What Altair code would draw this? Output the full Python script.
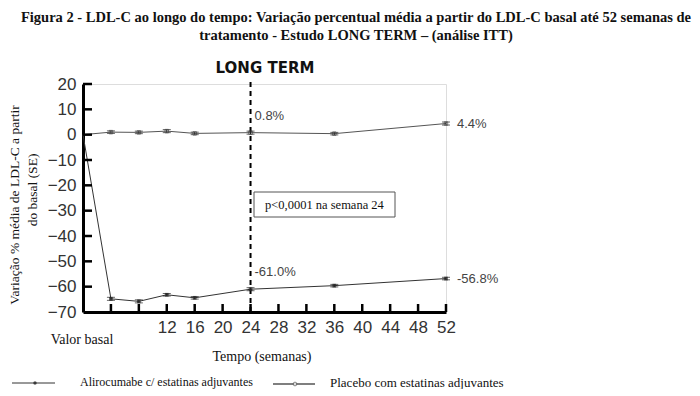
import altair as alt
import pandas as pd

# ---------------- data ----------------
weeks = [0, 4, 8, 12, 16, 24, 36, 52]
aliro = [0, -64.8, -65.8, -63.2, -64.4, -61.0, -59.6, -56.8]
aliro_se = [0, 0.6, 0.6, 0.5, 0.5, 0.6, 0.5, 0.5]
placebo = [0, 1.0, 0.9, 1.4, 0.5, 0.8, 0.4, 4.4]
placebo_se = [0, 0.5, 0.5, 0.6, 0.5, 0.6, 0.5, 0.6]
series_names = ["Alirocumabe c/ estatinas adjuvantes", "Placebo com estatinas adjuvantes"]

x_ticks = [0, 4, 8, 12, 16, 20, 24, 28, 32, 36, 40, 44, 48, 52]
y_ticks = [20, 10, 0, -10, -20, -30, -40, -50, -60, -70]

label_weeks = [24, 52, 24, 52]
label_values = [0.8, 4.4, -61.0, -56.8]
label_texts = ["0.8%", "4.4%", "-61.0%", "-56.8%"]

title_lines = [
    "Figura 2 - LDL-C ao longo do tempo: Variação percentual média a partir do LDL-C basal até 52 semanas de",
    "tratamento - Estudo LONG TERM – (análise ITT)",
]
y_title_lines = ["Variação % média de LDL-C a partir", "do basal (SE)"]

rows = []
for w, v, s in zip(weeks, aliro, aliro_se):
    rows.append({"week": w, "value": v, "lo": v - s, "hi": v + s, "series": series_names[0]})
for w, v, s in zip(weeks, placebo, placebo_se):
    rows.append({"week": w, "value": v, "lo": v - s, "hi": v + s, "series": series_names[1]})
df = pd.DataFrame(rows)
df_pts = df[df.week > 0]
df_a = df[df.series == series_names[0]]
df_p = df[df.series == series_names[1]]

df_lab = pd.DataFrame({"week": label_weeks, "value": label_values, "text": label_texts})
one = pd.DataFrame({"a": [0]})

W, H = 363, 228
xs = alt.Scale(domain=[0, 52], nice=False, zero=False)
ys = alt.Scale(domain=[-70, 20], nice=False, zero=False)

x_axis = alt.Axis(values=x_ticks, labelExpr="datum.value >= 12 ? datum.label : ''", title=None)
y_axis = alt.Axis(values=y_ticks, title=None)

def X(f):
    return alt.X(f, scale=xs, axis=x_axis)

def Y(f):
    return alt.Y(f, scale=ys, axis=y_axis)

# lines
line_a = alt.Chart(df_a).mark_line(color="#333", strokeWidth=1).encode(x=X("week:Q"), y=Y("value:Q"))
line_p = alt.Chart(df_p).mark_line(color="#555", strokeWidth=1).encode(x=X("week:Q"), y=Y("value:Q"))

# error bars
err = alt.Chart(df_pts).mark_rule(color="#222", strokeWidth=1).encode(
    x=X("week:Q"), y=Y("lo:Q"), y2="hi:Q")
cap_lo = alt.Chart(df_pts).mark_tick(color="#222", orient="horizontal", size=8, thickness=1).encode(
    x=X("week:Q"), y=Y("lo:Q"))
cap_hi = alt.Chart(df_pts).mark_tick(color="#222", orient="horizontal", size=8, thickness=1).encode(
    x=X("week:Q"), y=Y("hi:Q"))
pts_a = alt.Chart(df_a[df_a.week > 0]).mark_point(shape="square", filled=True, color="#222", size=14).encode(
    x=X("week:Q"), y=Y("value:Q"))
pts_p = alt.Chart(df_p[df_p.week > 0]).mark_point(shape="square", filled=False, color="#444", size=12, strokeWidth=1).encode(
    x=X("week:Q"), y=Y("value:Q"))

# inward ticks
xt = alt.Chart(pd.DataFrame({"t": x_ticks[1:]})).mark_rule(color="#000", strokeWidth=2.5).encode(
    x=X("t:Q"), y=alt.value(H), y2=alt.value(H - 8))
yt = alt.Chart(pd.DataFrame({"t": y_ticks[:-1]})).mark_rule(color="#000", strokeWidth=2.5).encode(
    y=Y("t:Q"), x=alt.value(0), x2=alt.value(9))

# dashed line at week 24
dash = alt.Chart(pd.DataFrame({"t": [24]})).mark_rule(color="#000", strokeWidth=2, strokeDash=[5, 4]).encode(
    x=X("t:Q"), y=alt.value(-2), y2=alt.value(H))

# value labels
lab_mid = alt.Chart(df_lab[df_lab.week == 24]).mark_text(
    align="left", baseline="middle", font="Liberation Sans", fontSize=13, color="#444", dx=4, dy=-17).encode(
    x=X("week:Q"), y=Y("value:Q"), text="text:N")
lab_end = alt.Chart(df_lab[df_lab.week == 52]).mark_text(
    align="left", baseline="middle", font="Liberation Sans", fontSize=13, color="#444", dx=11, dy=0).encode(
    x=X("week:Q"), y=Y("value:Q"), text="text:N")

# annotation box
box = alt.Chart(one).mark_rect(fill="white", stroke="#555", strokeWidth=1).encode(
    x=alt.value(171), x2=alt.value(312), y=alt.value(108), y2=alt.value(133))
box_t = alt.Chart(one).mark_text(text="p<0,0001 na semana 24", align="left", baseline="middle",
                                 font="Liberation Serif", fontSize=12.5, color="#111").encode(
    x=alt.value(182), y=alt.value(121))

def txt(t, x, y, **kw):
    base = dict(font="Liberation Serif", fontSize=14, color="#111", align="center", baseline="middle")
    base.update(kw)
    return alt.Chart(one).mark_text(text=t, **base).encode(x=alt.value(x), y=alt.value(y))

texts = [
    txt(title_lines[0], 273, -66, fontWeight="bold", fontSize=14.5),
    txt(title_lines[1], 273, -48, fontWeight="bold", fontSize=14.5),
    txt("LONG TERM", 182, -16, font="DejaVu Sans", fontWeight="bold", fontSize=15, color="#111"),
    txt(y_title_lines[0], -68, 121, angle=270, fontSize=13.5),
    txt(y_title_lines[1], -50, 106, angle=270, fontSize=13.5),
    txt("Valor basal", -1, 256, fontSize=14),
    txt("Tempo (semanas)", 179, 273, fontSize=14),
    txt(series_names[0], -3, 298, align="left", fontSize=12),
    txt(series_names[1], 247, 299, align="left", fontSize=13),
]

# legend
leg1 = alt.Chart(one).mark_rule(color="#333", strokeWidth=1).encode(
    x=alt.value(-71), x2=alt.value(-28), y=alt.value(299))
leg1p = alt.Chart(one).mark_point(shape="circle", filled=True, color="#111", size=12).encode(
    x=alt.value(-48), y=alt.value(299))
leg2 = alt.Chart(one).mark_rule(color="#555", strokeWidth=1.5).encode(
    x=alt.value(190), x2=alt.value(232), y=alt.value(300))
leg2p = alt.Chart(one).mark_point(shape="circle", filled=True, fill="white", stroke="#555", strokeWidth=1, size=14).encode(
    x=alt.value(212), y=alt.value(300))

chart = alt.layer(
    dash, line_a, line_p, err, cap_lo, cap_hi, pts_a, pts_p, xt, yt,
    lab_mid, lab_end, box, box_t, *texts, leg1, leg1p, leg2, leg2p
).properties(
    width=W, height=H,
    autosize=alt.AutoSizeParams(type="none"),
    padding={"left": 75, "top": 76, "right": 246, "bottom": 77},
).configure_view(stroke=None).configure(background="white").configure_axis(
    grid=False, ticks=False, domainColor="#000", domainWidth=3, labelOverlap=False, labelFlush=False,
    labelFont="Liberation Sans", labelFontSize=17, labelColor="#333", labelPadding=7
)

chart.save("out.html", embed_options={"renderer": "svg", "actions": False})
